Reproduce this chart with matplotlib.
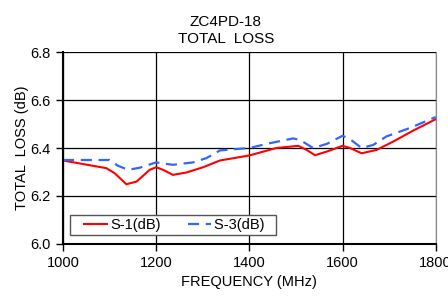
import matplotlib
matplotlib.use("Agg")
import matplotlib.pyplot as plt
from matplotlib.lines import Line2D
from matplotlib.legend_handler import HandlerLine2D

plt.rcParams['font.family'] = ['Liberation Sans', 'DejaVu Sans']

# S-1 readings
freq_s1 = [1000, 1093, 1111, 1136, 1158, 1186, 1200, 1215, 1236, 1265, 1301, 1337,
           1400, 1458, 1505, 1523, 1541, 1566, 1600, 1616, 1641, 1673, 1709, 1752, 1800]
loss_s1 = [6.348, 6.316, 6.295, 6.249, 6.26, 6.309, 6.32, 6.309, 6.288, 6.298, 6.32, 6.348,
           6.369, 6.40, 6.409, 6.392, 6.37, 6.385, 6.409, 6.40, 6.378, 6.392, 6.427, 6.473, 6.52]

# S-3 readings
freq_s3 = [1000, 1100, 1118, 1140, 1165, 1200, 1236, 1279, 1308, 1337, 1400, 1444,
           1494, 1508, 1537, 1566, 1600, 1616, 1641, 1666, 1694, 1744, 1800]
loss_s3 = [6.35, 6.35, 6.326, 6.309, 6.318, 6.34, 6.33, 6.34, 6.358, 6.39, 6.40, 6.42,
           6.44, 6.434, 6.40, 6.417, 6.451, 6.437, 6.40, 6.413, 6.448, 6.483, 6.529]

xticks = [1000, 1200, 1400, 1600, 1800]
yticks = [6.0, 6.2, 6.4, 6.6, 6.8]

fig = plt.figure(figsize=(4.48, 2.99), dpi=100)
ax = fig.add_axes([0.1406, 0.184, 0.832, 0.642])

ax.plot(freq_s1, loss_s1, color="#ff0000", lw=1.5, label="S-1(dB)")
ax.plot(freq_s3, loss_s3, color="#3366ff", lw=1.6, ls=(0, (5, 3)), label="S-3(dB)  ")

ax.set_xlim(1000, 1800)
ax.set_ylim(6.0, 6.8)
ax.set_xticks(xticks)
ax.set_yticks(yticks)
ax.set_yticklabels([f"{v:.1f}" for v in yticks])
ax.grid(True, color="black", lw=0.9)
ax.tick_params(direction="out", length=5, width=1, labelsize=10.5, colors="black", pad=4)
for s in ["left", "bottom"]:
    ax.spines[s].set_linewidth(1.5)
ax.spines["top"].set_visible(False)
ax.spines["right"].set_color("#888888")

ax.set_xlabel("FREQUENCY (MHz)", fontsize=10.5, labelpad=3)
ax.set_ylabel("TOTAL  LOSS (dB)", fontsize=10.5, labelpad=1)
fig.text(0.504, 0.95, "ZC4PD-18\nTOTAL  LOSS", fontsize=11, ha="center", va="top",
         linespacing=1.25)

leg = ax.legend(loc="lower left", ncol=2, fontsize=10.5, fancybox=False, framealpha=1,
                edgecolor="#555555", borderpad=0.2, handlelength=2.35, handletextpad=0.2,
                columnspacing=1.1, borderaxespad=0, bbox_to_anchor=(0.019, 0.047),
                handler_map={Line2D: HandlerLine2D(xpad=0.75)})
leg.get_frame().set_linewidth(1)

fig.savefig("out.png", dpi=100)
